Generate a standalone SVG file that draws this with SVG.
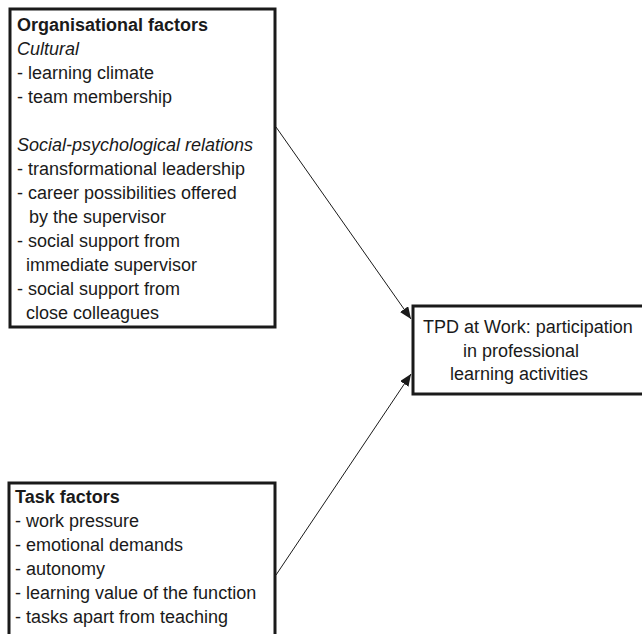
<svg xmlns="http://www.w3.org/2000/svg" width="642" height="634" viewBox="0 0 642 634">
<style>
.box{fill:#fff;stroke:#1a1a1a;stroke-width:3}
text{font-family:"Liberation Sans",Arial,sans-serif;font-size:18px;fill:#1a1a1a}
.b{font-weight:bold}
.i{font-style:italic}
.conn{stroke:#1a1a1a;stroke-width:1;fill:none;marker-end:url(#ah)}
</style>
<defs>
<marker id="ah" viewBox="0 0 12 10" refX="12" refY="5" markerWidth="12" markerHeight="10" markerUnits="userSpaceOnUse" orient="auto">
<path d="M0,0 L12,5 L0,10 z" fill="#1a1a1a"/>
</marker>
</defs>
<rect width="642" height="634" fill="#fff"/>
<g id="connectors">
<line class="conn" x1="276" y1="127" x2="411" y2="319"/>
<line class="conn" x1="276" y1="575" x2="411" y2="374"/>
</g>
<g id="organisational">
<rect class="box" x="10" y="9" width="265" height="318"/>
<text x="17" y="31" class="b">Organisational factors</text>
<text x="17" y="55" class="i">Cultural</text>
<text x="17" y="79">- learning climate</text>
<text x="17" y="103">- team membership</text>
<text x="17" y="151" class="i">Social-psychological relations</text>
<text x="17" y="175">- transformational leadership</text>
<text x="17" y="199">- career possibilities offered</text>
<text x="29" y="223">by the supervisor</text>
<text x="17" y="247">- social support from</text>
<text x="26" y="271">immediate supervisor</text>
<text x="17" y="295">- social support from</text>
<text x="26" y="319">close colleagues</text>
</g>
<g id="tpd">
<rect class="box" x="413" y="306" width="260" height="88"/>
<text x="423" y="333">TPD at Work: participation</text>
<text x="463" y="357">in professional</text>
<text x="450" y="380">learning activities</text>
</g>
<g id="task">
<rect class="box" x="9" y="483" width="266" height="160"/>
<text x="15" y="503" class="b">Task factors</text>
<text x="15" y="527">- work pressure</text>
<text x="15" y="551">- emotional demands</text>
<text x="15" y="575">- autonomy</text>
<text x="15" y="599">- learning value of the function</text>
<text x="15" y="623">- tasks apart from teaching</text>
</g>
</svg>
